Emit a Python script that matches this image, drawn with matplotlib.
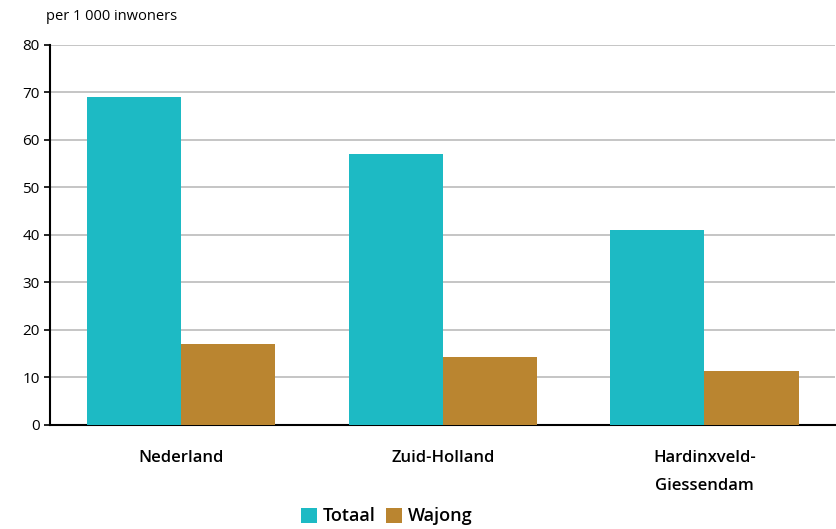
import numpy as np
import matplotlib.pyplot as plt

# Gegevens
regios = ["Nederland", "Zuid-Holland", "Hardinxveld-\nGiessendam"]
totaal = [69, 57, 41]
wajong = [17, 14.2, 11.3]

kleur_totaal = "#1DBAC4"
kleur_wajong = "#BA8530"

plt.rcParams["font.family"] = ["Open Sans", "DejaVu Sans"]

fig = plt.figure(figsize=(8.37, 5.29), dpi=100)
ax = fig.add_axes([0.06, 0.197, 0.938, 0.718])

x = np.arange(len(regios))
w = 0.36
ax.bar(x - w / 2, totaal, w, color=kleur_totaal, label="Totaal", zorder=3)
ax.bar(x + w / 2, wajong, w, color=kleur_wajong, label="Wajong", zorder=3)

ax.set_xlim(-0.5, 2.5)
ax.set_ylim(0, 80)
ax.set_yticks(range(0, 81, 10))
ax.tick_params(axis="y", labelsize=11, length=4, width=1.2, colors="black")
ax.set_xticks(x)
ax.set_xticklabels(regios, fontsize=12, linespacing=2.0, fontweight="semibold")
ax.tick_params(axis="x", length=0, pad=18)

ax.grid(axis="y", color="#BBBBBB", linewidth=1.2, zorder=0)
for s in ["top", "right"]:
    ax.spines[s].set_visible(False)
ax.spines["left"].set_linewidth(1.5)
ax.spines["bottom"].set_linewidth(1.5)

fig.text(0.055, 0.962, "per 1 000 inwoners", fontsize=10.5)

leg = fig.legend(loc="center", bbox_to_anchor=(0.462, 0.024), ncol=2,
                 frameon=False, fontsize=13, handlelength=0.9, handleheight=0.9,
                 handletextpad=0.3, columnspacing=0.6, borderpad=0.1)
for t in leg.get_texts():
    t.set_fontweight("semibold")

fig.savefig("out.png", dpi=100)
